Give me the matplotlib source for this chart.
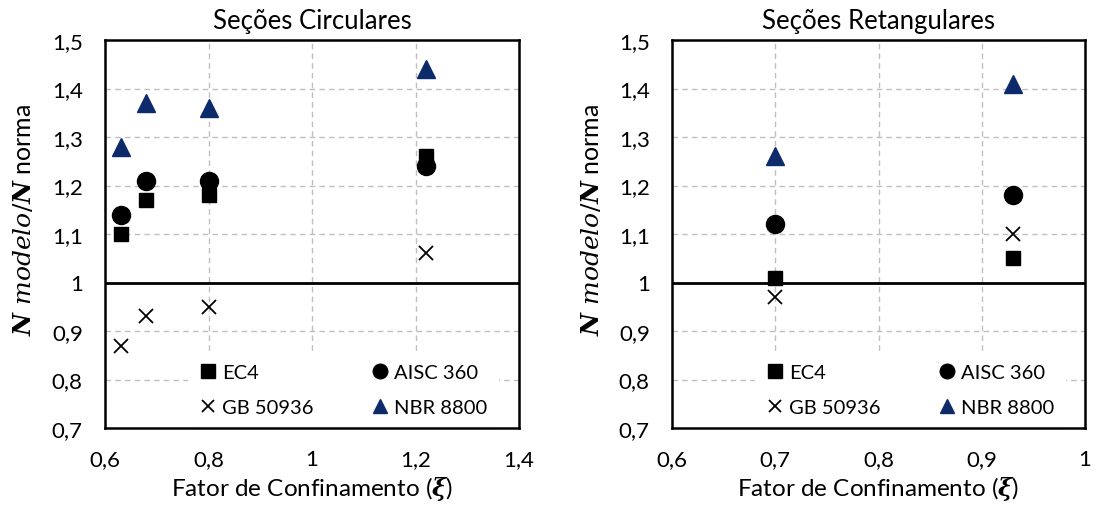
import matplotlib
matplotlib.use("Agg")
import matplotlib.pyplot as plt
from matplotlib.lines import Line2D

plt.rcParams['font.family'] = ['Lato', 'DejaVu Sans']
plt.rcParams['mathtext.fontset'] = 'custom'
plt.rcParams['mathtext.it'] = 'DejaVu Serif:italic'
plt.rcParams['mathtext.bf'] = 'DejaVu Serif:italic:bold'
plt.rcParams['mathtext.rm'] = 'DejaVu Serif'

# Data
circ_x = [0.63, 0.68, 0.80, 1.22]
circ_ec4 = [1.10, 1.17, 1.18, 1.26]
circ_aisc = [1.14, 1.21, 1.21, 1.24]
circ_gb = [0.87, 0.93, 0.95, 1.06]
circ_nbr = [1.28, 1.37, 1.36, 1.44]

ret_x = [0.70, 0.93]
ret_ec4 = [1.01, 1.05]
ret_aisc = [1.12, 1.18]
ret_gb = [0.97, 1.10]
ret_nbr = [1.26, 1.41]

labels = ["EC4", "AISC 360", "GB 50936", "NBR 8800"]
y_ticks = [0.7, 0.8, 0.9, 1.0, 1.1, 1.2, 1.3, 1.4, 1.5]
circ_xticks = [0.6, 0.8, 1.0, 1.2, 1.4]
ret_xticks = [0.6, 0.7, 0.8, 0.9, 1.0]

NAVY = "#0D2A6B"

def fmt(v):
    s = f"{v:g}"
    return s.replace(".", ",")

W, H = 1096, 506
fig = plt.figure(figsize=(W/100, H/100), dpi=100)
ax1 = fig.add_axes([105/W, 1-429/H, 414/W, 388/H])
ax2 = fig.add_axes([672/W, 1-429/H, 413/W, 388/H])

def draw(ax, x, ec4, aisc, gb, nbr, xticks, title, legx):
    ax.plot(x, ec4, 's', color='black', ms=10.5, linestyle='none', zorder=5)
    ax.plot(x, aisc, 'o', color='black', ms=13, linestyle='none', zorder=5)
    ax.plot(x, gb, 'x', color='black', ms=10, mew=1.3, linestyle='none', zorder=5)
    ax.plot(x, nbr, '^', color=NAVY, ms=13, linestyle='none', zorder=5)
    ax.axhline(1.0, color='black', lw=2.0, zorder=4)
    ax.set_xlim(xticks[0], xticks[-1])
    ax.set_ylim(0.7, 1.5)
    ax.set_xticks(xticks)
    ax.set_yticks(y_ticks)
    ax.set_xticklabels([fmt(v) for v in xticks])
    ax.set_yticklabels([fmt(v) for v in y_ticks])
    ax.tick_params(length=0, labelsize=16)
    ax.tick_params(axis='x', pad=15)
    ax.tick_params(axis='y', pad=16)
    ax.grid(True, color='#BFBFBF', linestyle=(0, (4, 3)), lw=1.0)
    ax.set_axisbelow(True)
    for s in ax.spines.values():
        s.set_linewidth(1.8)
        s.set_color('black')
        s.set_zorder(6)
    ax.set_title(title, fontsize=18.5, pad=9)
    ax.set_xlabel(r"Fator de Confinamento ($\mathbf{\xi}$)", fontsize=17.5, labelpad=4)
    ax.set_ylabel(r"$\mathbf{N}\ \mathit{modelo}/\mathbf{N}$ norma", fontsize=18)
    ax.yaxis.set_label_coords(-0.168, 0.54)
    handles = [
        Line2D([], [], marker='s', color='black', ms=9.5, linestyle='none'),
        Line2D([], [], marker='x', color='black', ms=9, mew=1.3, linestyle='none'),
        Line2D([], [], marker='o', color='black', ms=10.5, linestyle='none'),
        Line2D([], [], marker='^', color=NAVY, ms=10.5, linestyle='none'),
    ]
    leg = ax.legend(handles, [labels[0], labels[2], labels[1], labels[3]], ncol=2,
                    loc='lower left', bbox_to_anchor=(legx, 0.0), fontsize=14.5,
                    frameon=True, facecolor='white', edgecolor='none', framealpha=1,
                    handlelength=0.8, handletextpad=0.3, columnspacing=2.9,
                    labelspacing=0.9, borderpad=0.6, borderaxespad=0.0)
    leg.get_frame().set_boxstyle('square', pad=0)
    leg.set_zorder(3)

draw(ax1, circ_x, circ_ec4, circ_aisc, circ_gb, circ_nbr, circ_xticks, "Seções Circulares", 0.2)
draw(ax2, ret_x, ret_ec4, ret_aisc, ret_gb, ret_nbr, ret_xticks, "Seções Retangulares", 0.2)

fig.savefig("out.png", dpi=100)
